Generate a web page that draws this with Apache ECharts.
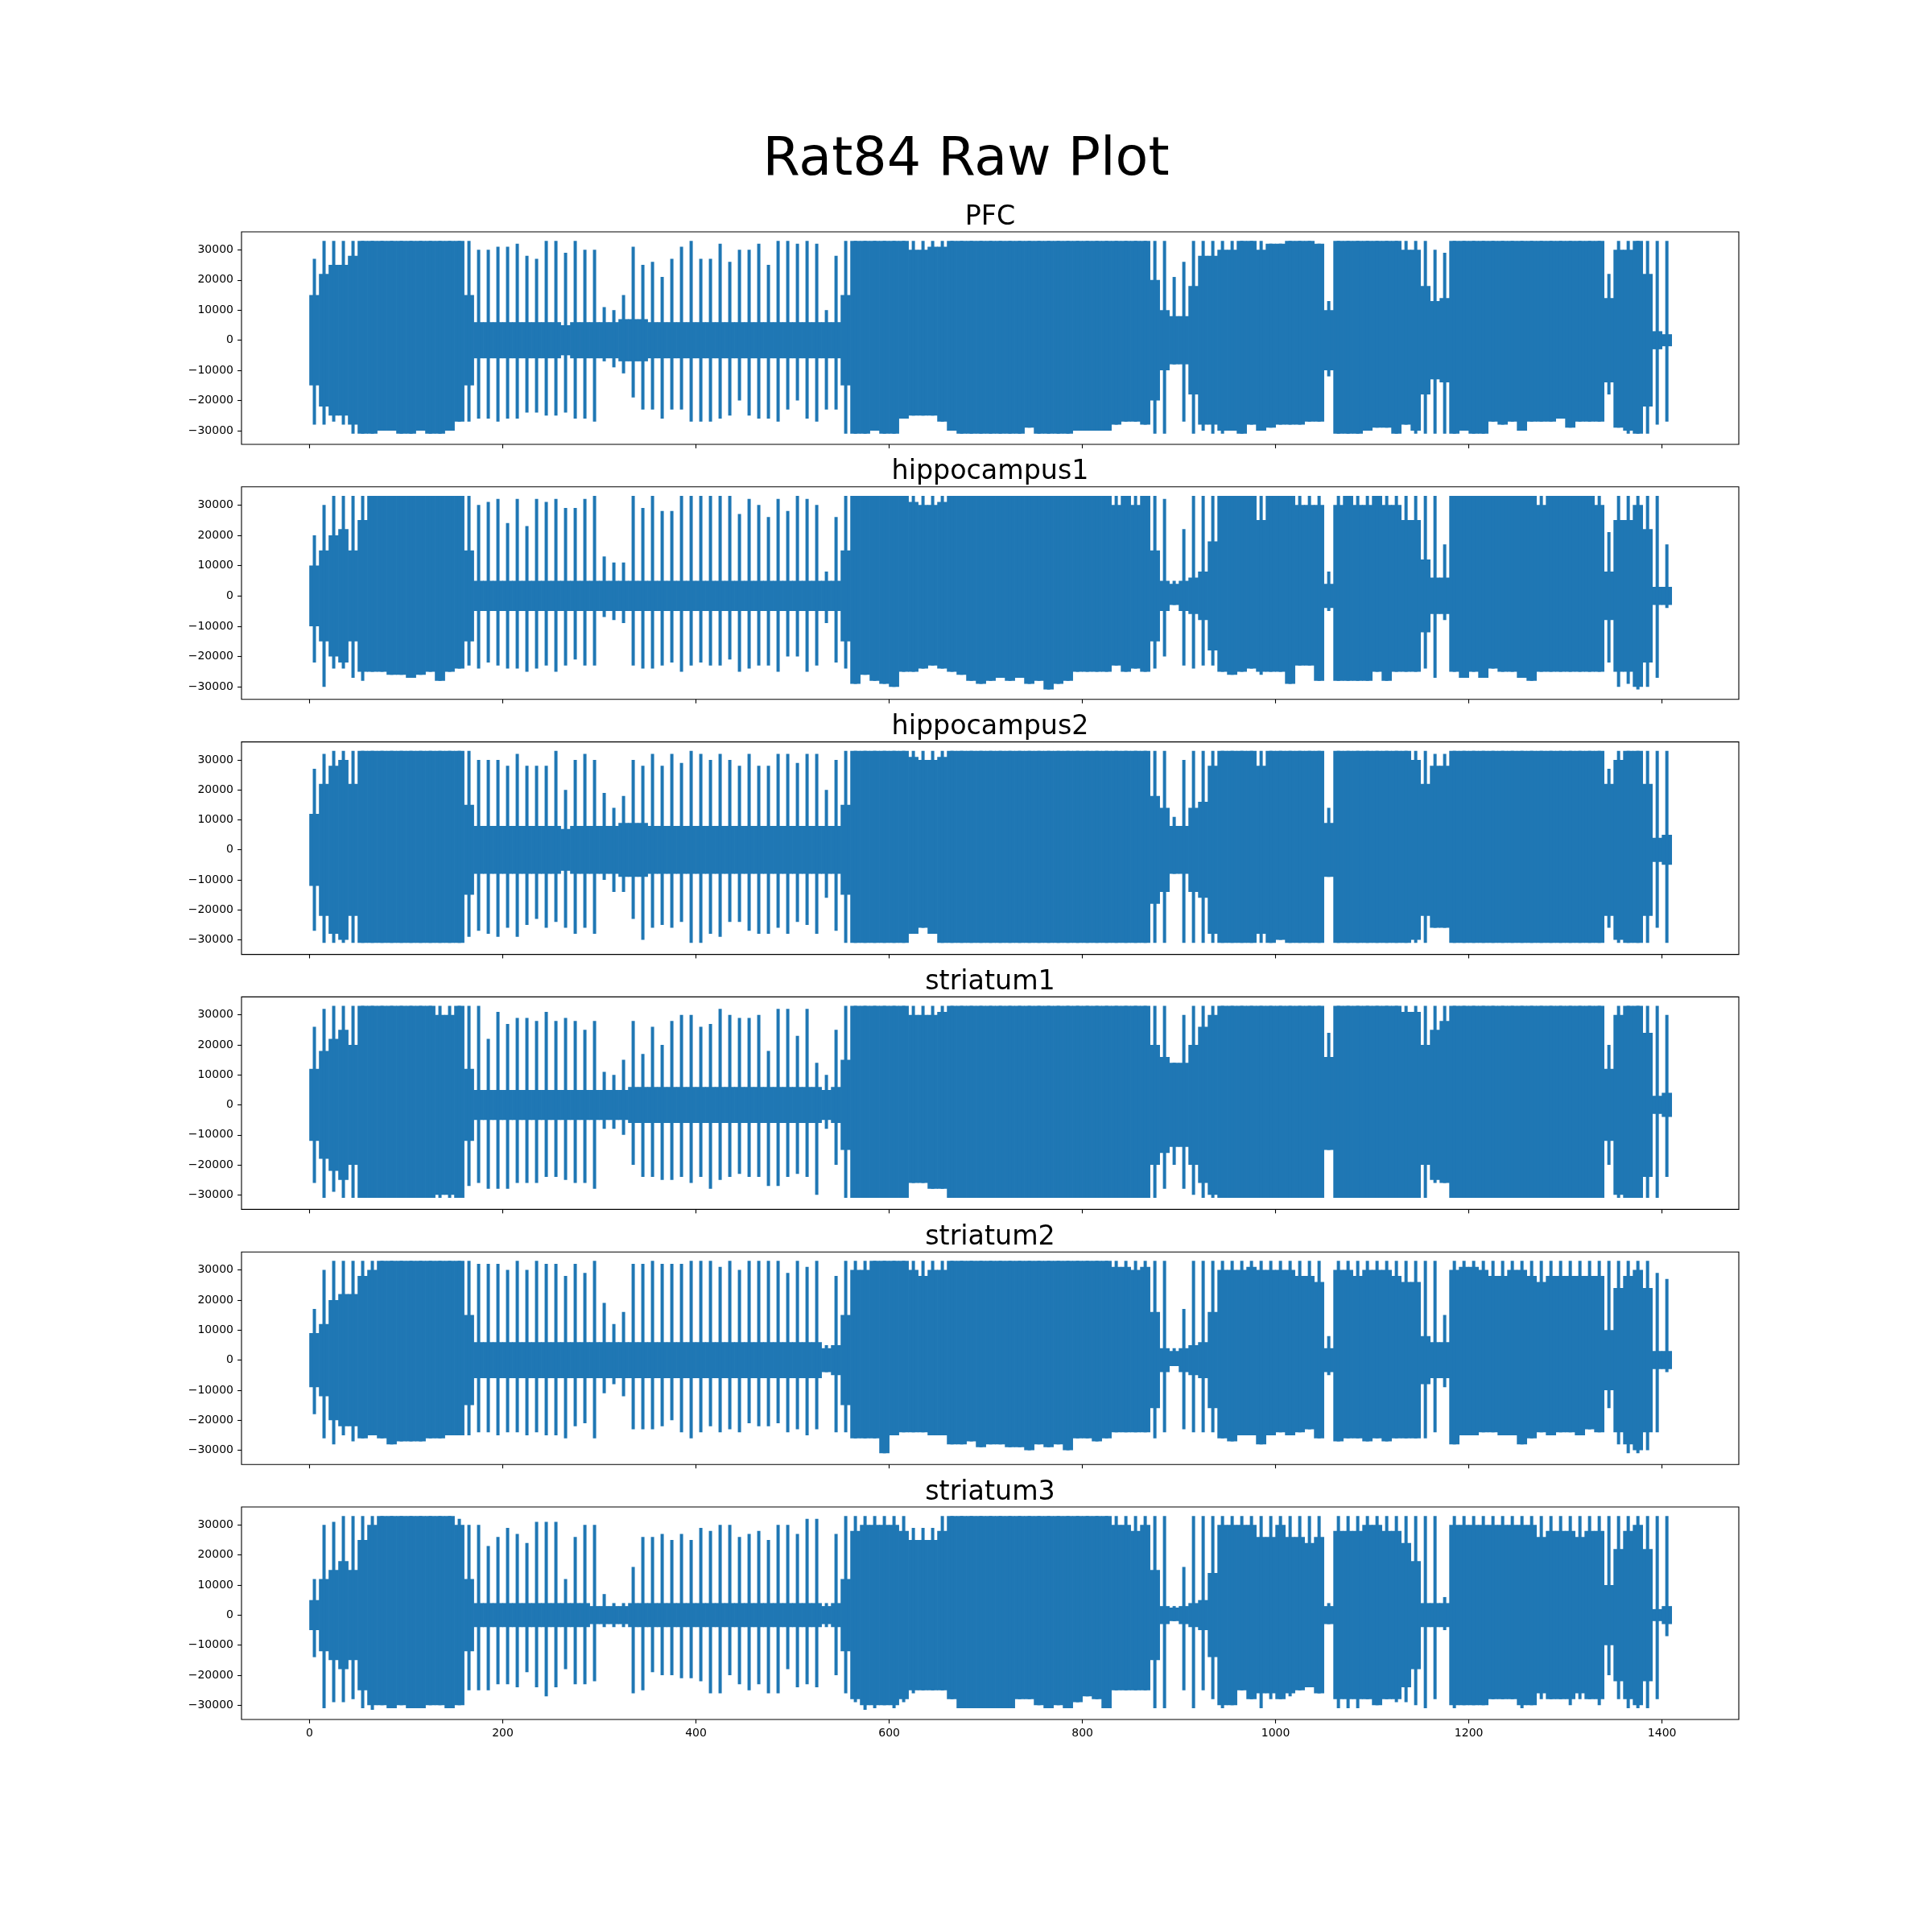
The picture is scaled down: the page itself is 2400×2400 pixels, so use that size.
<!DOCTYPE html>
<html>
<head>
<meta charset="utf-8">
<script src="https://cdn.jsdelivr.net/npm/echarts@6/dist/echarts.min.js"></script>
<style>html,body{margin:0;padding:0;background:#fff}#chart{width:2400px;height:2400px}</style>
</head>
<body>
<div id="chart"></div>
<script>
// ---------- data (values in thousands, one entry per 10-second bin starting at 0 s) ----------
const suptitle = 'Rat84 Raw Plot';
const channels = ['PFC', 'hippocampus1', 'hippocampus2', 'striatum1', 'striatum2', 'striatum3'];
const binWidth = 10; // seconds per bin
const xTicks = [0, 200, 400, 600, 800, 1000, 1200, 1400];
const yTicks = [-30000, -20000, -10000, 0, 10000, 20000, 30000];
const panelMin = [-31350, -30950, -31630, -31630, -31500, -31520];
const panelMax = [32767, 32767, 32767, 32767, 32767, 32767];

// per bin: hi = max value, lo = min value, core = half-height of the densely filled band
const pfcHi = [
27,33,33,33,33,33,33,33,33,33, 33,33,33,33,33,33,33,30,30,31,
31,32,28,27,33,33,29,33,30,30, 11,10,15,31,25,26,21,27,31,33,
27,27,32,26,30,30,32,25,33,33, 32,33,32,10,28,33,33,33,33,33,
33,33,33,33,33,33,33,33,33,33, 33,33,33,33,33,33,33,33,33,33,
33,33,33,33,33,33,33,33,33,21, 26,33,33,33,33,33,33,33,33,32,
32,33,33,33,32,13,33,33,33,33, 33,33,33,33,33,33,30,29,33,33,
33,33,33,33,33,33,33,33,33,33, 33,33,33,33,22,33,33,33,33,33, 33];
const pfcLo = [
-28,-28,-27,-28,-31,-31,-31,-30,-30,-31, -31,-30,-31,-31,-30,-27,-27,-26,-26,-27,
-26,-26,-24,-24,-25,-25,-24,-26,-26,-27, -7,-9,-11,-19,-23,-23,-26,-23,-23,-27,
-27,-27,-26,-25,-20,-25,-26,-26,-27,-23, -20,-26,-27,-23,-23,-31,-31,-31,-30,-31,
-31,-26,-25,-25,-25,-27,-30,-31,-31,-31, -31,-31,-31,-31,-29,-31,-31,-31,-31,-30,
-30,-30,-30,-28,-27,-27,-28,-31,-31,-8, -27,-31,-30,-31,-31,-30,-31,-28,-30,-29,
-28,-28,-28,-27,-27,-12,-31,-31,-31,-30, -29,-29,-31,-28,-31,-31,-31,-31,-31,-30,
-31,-31,-27,-28,-27,-30,-27,-27,-27,-26, -29,-27,-27,-27,-18,-29,-31,-31,-31,-28, -27];
const pfcCore = [
15,22,25,25,28,33,33,33,33,33, 33,33,33,33,33,33,15,6,6,6,
6,6,6,6,6,6,5,6,6,6, 6,6,7,7,7,6,6,6,6,6,
6,6,6,6,6,6,6,6,6,6, 6,6,6,6,6,15,33,33,33,33,
33,33,30,30,31,31,33,33,33,33, 33,33,33,33,33,33,33,33,33,33,
33,33,33,33,33,33,33,20,10,8, 8,18,28,28,30,30,33,33,30,33,
33,33,33,33,33,10,33,33,33,33, 33,33,33,30,30,18,13,14,33,33,
33,33,33,33,33,33,33,33,33,33, 33,33,33,33,14,30,30,33,22,3, 2];

const hip1Hi = [
20,30,33,33,33,33,33,33,33,33, 33,33,33,33,33,33,33,30,31,32,
24,32,23,32,31,32,29,29,32,33, 13,11,11,33,29,33,28,28,33,33,
33,33,33,33,27,32,30,26,32,28, 33,32,30,8,26,33,33,33,33,33,
33,33,33,33,33,33,33,33,33,33, 33,33,33,33,33,33,33,33,33,33,
33,33,33,33,33,33,33,33,32,5, 22,33,33,33,33,33,33,33,33,33,
33,33,33,33,33,8,33,33,33,33, 33,33,33,33,33,33,33,17,33,33,
33,33,33,33,33,33,33,33,33,33, 33,33,33,33,21,33,33,33,33,33, 17];
const hip1Lo = [
-22,-30,-24,-24,-27,-28,-25,-25,-26,-26, -27,-26,-25,-28,-25,-24,-23,-24,-22,-23,
-24,-24,-25,-24,-23,-25,-23,-21,-23,-23, -7,-8,-9,-23,-24,-24,-23,-22,-25,-23,
-22,-23,-23,-21,-25,-24,-23,-23,-25,-20, -20,-25,-23,-9,-22,-24,-29,-26,-28,-29,
-30,-25,-25,-24,-23,-24,-25,-26,-28,-29, -28,-27,-28,-27,-29,-28,-30.9,-29,-28,-25,
-25,-25,-25,-23,-25,-24,-25,-24,-20,-3, -23,-24,-23,-23,-25,-26,-25,-24,-26,-25,
-25,-29,-23,-23,-28,-5,-28,-28,-28,-28, -25,-28,-25,-25,-25,-24,-27,-8,-25,-27,
-25,-27,-24,-25,-25,-27,-28,-25,-25,-25, -25,-25,-25,-25,-22,-30,-29,-30.9,-30,-27, -4];
const hip1Core = [
10,15,20,22,15,25,33,33,33,33, 33,33,33,33,33,33,15,5,5,5,
5,5,5,5,5,5,5,5,5,5, 5,5,5,5,5,5,5,5,5,5,
5,5,5,5,5,5,5,5,5,5, 5,5,5,5,5,15,33,33,33,33,
33,33,31,30,30,31,33,33,33,33, 33,33,33,33,33,33,33,33,33,33,
33,33,33,30,33,30,33,15,5,4, 5,6,8,18,33,33,33,33,25,33,
33,33,30,30,30,4,30,33,30,30, 33,30,30,25,25,12,6,6,33,33,
33,33,33,33,33,33,33,30,33,33, 33,33,33,30,8,25,25,30,22,3, 3];

const hip2Hi = [
27,32,33,33,33,33,33,33,33,33, 33,33,33,33,33,33,33,30,30,30,
28,32,28,28,28,33,20,30,32,30, 19,14,18,30,28,32,28,32,29,33,
32,30,32,30,28,32,28,28,32,32, 29,32,32,20,30,33,33,33,33,33,
33,33,33,33,33,33,33,33,33,33, 33,33,33,33,33,33,33,33,33,33,
33,33,33,33,33,33,33,33,33,11, 30,33,33,33,33,33,33,33,33,33,
33,33,33,33,33,14,33,33,33,33, 33,33,33,33,33,33,32,32,33,33,
33,33,33,33,33,33,33,33,33,33, 33,33,33,33,27,33,33,33,33,33, 33];
const hip2Lo = [
-27,-31,-31,-31,-31,-31,-31,-31,-31,-31, -31,-31,-31,-31,-31,-31,-29,-27,-28,-29,
-26,-29,-25,-23,-26,-24,-26,-28,-26,-28, -10,-14,-14,-23,-30,-26,-25,-26,-24,-31,
-31,-28,-29,-24,-24,-27,-28,-28,-26,-28, -24,-25,-28,-16,-27,-31,-31,-31,-31,-31,
-31,-31,-28,-26,-28,-31,-31,-31,-31,-31, -31,-31,-31,-31,-31,-31,-31,-31,-31,-31,
-31,-31,-31,-31,-31,-31,-31,-31,-31,-8, -31,-31,-31,-31,-31,-31,-31,-31,-31,-31,
-30,-31,-31,-31,-31,-9,-31,-31,-31,-31, -31,-31,-31,-31,-31,-31,-26,-26,-31,-31,
-31,-31,-31,-31,-31,-31,-31,-31,-31,-31, -31,-31,-31,-31,-26,-31,-31,-31,-31,-26, -31];
const hip2Core = [
12,22,28,30,22,33,33,33,33,33, 33,33,33,33,33,33,15,8,8,8,
8,8,8,8,8,8,7,8,8,8, 8,8,9,9,9,8,8,8,8,8,
8,8,8,8,8,8,8,8,8,8, 8,8,8,8,8,15,33,33,33,33,
33,33,31,30,30,31,33,33,33,33, 33,33,33,33,33,33,33,33,33,33,
33,33,33,33,33,33,33,18,14,8, 8,14,16,28,33,33,33,33,28,33,
33,33,33,33,33,9,33,33,33,33, 33,33,33,33,30,22,28,28,33,33,
33,33,33,33,33,33,33,33,33,33, 33,33,33,33,22,30,33,33,22,4, 5];

const str1Hi = [
26,32,33,33,33,33,33,33,33,33, 33,33,33,33,33,33,33,33,22,31,
27,29,29,28,31,28,29,28,25,28, 11,10,15,28,17,26,20,28,30,30,
26,27,32,30,29,29,30,18,32,32, 23,32,14,10,25,33,33,33,33,33,
33,33,33,33,33,33,33,33,33,33, 33,33,33,33,33,33,33,33,33,33,
33,33,33,33,33,33,33,33,33,14, 30,33,33,33,33,33,33,33,33,33,
33,33,33,33,33,24,33,33,33,33, 33,33,33,33,33,33,33,33,33,33,
33,33,33,33,33,33,33,33,33,33, 33,33,33,33,20,33,33,33,33,33, 30];
const str1Lo = [
-26,-31,-29,-31,-31,-31,-31,-31,-31,-31, -31,-31,-31,-31,-31,-31,-27,-26,-28,-28,
-28,-26,-26,-26,-24,-24,-25,-26,-26,-28, -8,-8,-10,-20,-24,-24,-25,-25,-24,-26,
-24,-28,-25,-24,-23,-24,-24,-27,-27,-24, -23,-24,-30,-8,-20,-31,-31,-31,-31,-31,
-31,-31,-26,-26,-28,-28,-31,-31,-31,-31, -31,-31,-31,-31,-31,-31,-31,-31,-31,-31,
-31,-31,-31,-31,-31,-31,-31,-31,-28,-20, -28,-30,-31,-31,-31,-31,-31,-31,-31,-31,
-31,-31,-31,-31,-31,-15,-31,-31,-31,-31, -31,-31,-31,-31,-31,-31,-26,-26,-31,-31,
-31,-31,-31,-31,-31,-31,-31,-31,-31,-31, -31,-31,-31,-31,-20,-31,-31,-31,-31,-31, -24];
const str1Core = [
12,18,22,25,20,33,33,33,33,33, 33,33,33,30,30,33,12,5,5,5,
5,5,5,5,5,5,5,5,5,5, 5,5,5,6,6,6,6,6,6,6,
6,6,6,6,6,6,6,6,6,6, 6,6,6,5,6,15,33,33,33,33,
33,33,30,30,30,31,33,33,33,33, 33,33,33,33,33,33,33,33,33,33,
33,33,33,33,33,33,33,20,16,14, 14,20,26,30,33,33,33,33,33,33,
33,33,33,33,33,16,33,33,33,33, 33,33,33,31,31,20,25,28,33,33,
33,33,33,33,33,33,33,33,33,33, 33,33,33,33,12,30,33,33,24,3, 4];

const str2Hi = [
17,30,33,33,33,33,33,33,33,33, 33,33,33,33,33,33,33,32,32,32,
30,33,30,33,32,32,28,32,29,33, 19,12,16,32,32,33,32,32,32,33,
33,33,31,33,30,33,33,33,33,29, 33,31,33,5,28,33,33,33,33,33,
33,33,33,33,33,33,33,33,33,33, 33,33,33,33,33,33,33,33,33,33,
33,33,33,33,33,33,33,33,33,4, 17,33,33,33,33,33,33,33,33,33,
33,33,33,33,33,8,33,33,33,33, 33,33,33,33,33,33,33,15,33,33,
33,33,33,33,33,33,33,33,33,33, 33,33,33,33,33,33,33,33,33,29, 27];
const str2Lo = [
-18,-26,-28,-25,-27,-26,-25,-26,-28,-27, -27,-27,-26,-26,-25,-25,-25,-24,-24,-25,
-24,-24,-25,-24,-25,-25,-26,-22,-21,-26, -11,-8,-12,-23,-23,-23,-22,-20,-24,-26,
-24,-22,-24,-23,-24,-21,-22,-22,-21,-24, -23,-25,-23,-4,-24,-24,-26,-26,-26,-31,
-25,-24,-24,-24,-25,-25,-28,-28,-27,-29, -28,-28,-29,-29,-30,-28,-29,-28,-30,-26,
-26,-27,-26,-24,-24,-24,-24,-26,-24,-2, -23,-24,-24,-24,-26,-27,-25,-25,-28,-25,
-24,-25,-24,-23,-26,-5,-27,-26,-26,-27, -26,-27,-26,-26,-26,-26,-24,-9,-28,-25,
-25,-24,-24,-25,-25,-28,-26,-24,-25,-24, -24,-25,-23,-24,-16,-28,-31,-31,-30,-24, -4];
const str2Core = [
9,12,20,22,22,28,30,33,33,33, 33,33,33,33,33,33,15,6,6,6,
6,6,6,6,6,6,6,6,6,6, 6,6,6,6,6,6,6,6,6,6,
6,6,6,6,6,6,6,6,6,6, 6,6,6,4,5,15,30,30,33,33,
33,33,30,28,30,30,33,33,33,33, 33,33,33,33,33,33,33,33,33,33,
33,33,33,31,31,30,31,16,4,3, 4,5,6,16,30,30,30,31,30,30,
30,30,28,28,26,4,30,30,28,30, 30,30,28,26,26,8,6,6,30,31,
31,30,28,28,30,30,28,26,28,28, 28,28,28,28,10,24,28,30,24,3, 3];

const str3Hi = [
12,30,31,33,33,33,33,33,33,33, 33,33,33,33,33,32,30,30,23,26,
29,27,24,31,31,31,12,26,30,30, 7,4,4,16,26,26,27,25,27,25,
29,28,30,30,26,27,28,25,30,30, 27,32,32,4,27,33,33,33,33,33,
33,33,29,29,29,33,33,33,33,33, 33,33,33,33,33,33,33,33,33,33,
33,33,33,33,33,33,33,33,33,3, 16,33,33,33,33,33,33,33,33,33,
33,33,33,33,33,4,33,33,33,33, 33,33,33,33,33,33,33,6,33,33,
33,33,33,33,33,33,33,33,33,33, 33,33,33,33,33,33,33,33,33,33, 33];
const str3Lo = [
-14,-31,-29,-29,-28,-31,-31.5,-30,-31,-30, -31,-31,-30,-30,-31,-30,-25,-25,-25,-23,
-23,-24,-19,-24,-27,-24,-18,-23,-23,-22, -4,-4,-4,-26,-25,-19,-20,-20,-21,-21,
-22,-26,-26,-20,-23,-25,-23,-26,-26,-18, -24,-23,-24,-4,-20,-26,-29,-31.5,-31,-30,
-31,-29,-26,-25,-25,-25,-28,-31,-31,-31, -31,-31,-31,-28,-28,-30,-31,-30,-31,-29,
-27,-28,-31,-25,-25,-25,-25,-31,-31,-2, -25,-31,-25,-28,-31,-30,-25,-28,-31,-28,
-28,-27,-25,-24,-26,-3,-31,-31,-31,-28, -30,-28,-29,-29,-30,-31,-28,-5,-31,-30,
-30,-30,-28,-28,-28,-31,-30,-28,-28,-28, -30,-28,-28,-30,-20,-28,-31,-31,-31,-28, -7];
const str3Core = [
5,12,15,18,15,25,30,33,33,33, 33,33,33,33,33,30,12,4,4,4,
4,4,4,4,4,4,4,4,4,3, 3,3,3,4,4,4,4,4,4,4,
4,4,4,4,4,4,4,4,4,4, 4,4,4,3,4,12,28,30,30,30,
30,28,25,25,25,28,33,33,33,33, 33,33,33,33,33,33,33,33,33,33,
33,33,33,30,30,28,30,15,3,2.5, 3,4,5,14,30,30,30,30,26,26,
30,26,26,24,26,3,28,28,28,30, 30,28,28,24,18,4,4,4,30,30,
30,30,30,30,30,30,30,26,28,28, 28,26,28,28,10,22,28,30,22,2, 3];

const hiSets = [pfcHi, hip1Hi, hip2Hi, str1Hi, str2Hi, str3Hi];
const loSets = [pfcLo, hip1Lo, hip2Lo, str1Lo, str2Lo, str3Lo];
const coreSets = [pfcCore, hip1Core, hip2Core, str1Core, str2Core, str3Core];

// ---------- layout / style ----------
const W = 2400;
const BLUE = '#1f77b4';
const FONT = 'DejaVu Sans';
const gridLeft = 300, gridWidth = 1860, gridTop0 = 288, gridStep = 316.8, gridHeight = 264;
const xMin = -70.45, xMax = 1479.45;

const chart = echarts.init(document.getElementById('chart'), null, {renderer: 'canvas', width: W, height: W, devicePixelRatio: 1});

function renderBin(params, api) {
  const t = api.value(0), hi = api.value(1), lo = api.value(2), c = api.value(3);
  const top = Math.min(c, hi), bot = Math.max(-c, lo);
  const a = api.coord([t, top]);
  const b = api.coord([t + binWidth, bot]);
  const m1 = api.coord([t + binWidth / 2, hi]);
  const m2 = api.coord([t + binWidth / 2, lo]);
  return {
    type: 'group',
    children: [
      {type: 'rect', shape: {x: a[0] - 0.35, y: a[1], width: b[0] - a[0] + 0.7, height: b[1] - a[1]}, style: {fill: BLUE}},
      {type: 'line', shape: {x1: m1[0], y1: m1[1], x2: m2[0], y2: m2[1]}, style: {stroke: BLUE, lineWidth: 4}}
    ]
  };
}

const grids = [], xAxes = [], yAxes = [], series = [], graphics = [];
channels.forEach((name, i) => {
  const top = gridTop0 + i * gridStep;
  grids.push({left: gridLeft, top: top, width: gridWidth, height: gridHeight, show: true,
    borderColor: '#000', borderWidth: 1.1, backgroundColor: 'rgba(0,0,0,0)', containLabel: false});
  xAxes.push({
    gridIndex: i, type: 'value', min: xMin, max: xMax, position: 'bottom',
    axisLine: {show: false, onZero: false}, splitLine: {show: false},
    axisTick: {show: true, inside: false, length: 4.9, lineStyle: {color: '#000', width: 1.1}, customValues: xTicks},
    axisLabel: {show: i === channels.length - 1, customValues: xTicks, margin: 10, fontSize: 14, fontFamily: FONT, color: '#000',
      formatter: v => String(Math.round(v))}
  });
  const span = panelMax[i] - panelMin[i];
  yAxes.push({
    gridIndex: i, type: 'value', min: panelMin[i] - 0.05 * span, max: panelMax[i] + 0.05 * span, position: 'left',
    axisLine: {show: false, onZero: false}, splitLine: {show: false},
    axisTick: {show: true, inside: false, length: 4.9, lineStyle: {color: '#000', width: 1.1}, customValues: yTicks},
    axisLabel: {show: true, customValues: yTicks, margin: 10, fontSize: 14, fontFamily: FONT, color: '#000',
      formatter: v => String(Math.round(v)).replace('-', '\u2212')}
  });
  const hi = hiSets[i], lo = loSets[i], core = coreSets[i];
  const data = hi.map((h, k) => [k * binWidth, h * 1000, lo[k] * 1000, core[k] * 1000]);
  series.push({
    type: 'custom', name: name, xAxisIndex: i, yAxisIndex: i, data: data,
    renderItem: renderBin, clip: true, silent: true, animation: false,
    encode: {x: 0, y: [1, 2]}
  });
  graphics.push({type: 'text', x: gridLeft + gridWidth / 2, y: top - 18,
    style: {text: name, fontSize: 33.3, fontFamily: FONT, fill: '#000', align: 'center', verticalAlign: 'middle'}});
});
graphics.push({type: 'text', x: W / 2, y: 200,
  style: {text: suptitle, fontSize: 66.7, fontFamily: FONT, fill: '#000', align: 'center', verticalAlign: 'middle'}});

chart.setOption({
  backgroundColor: '#fff',
  animation: false,
  grid: grids,
  xAxis: xAxes,
  yAxis: yAxes,
  series: series,
  graphic: graphics
});
</script>
</body>
</html>
